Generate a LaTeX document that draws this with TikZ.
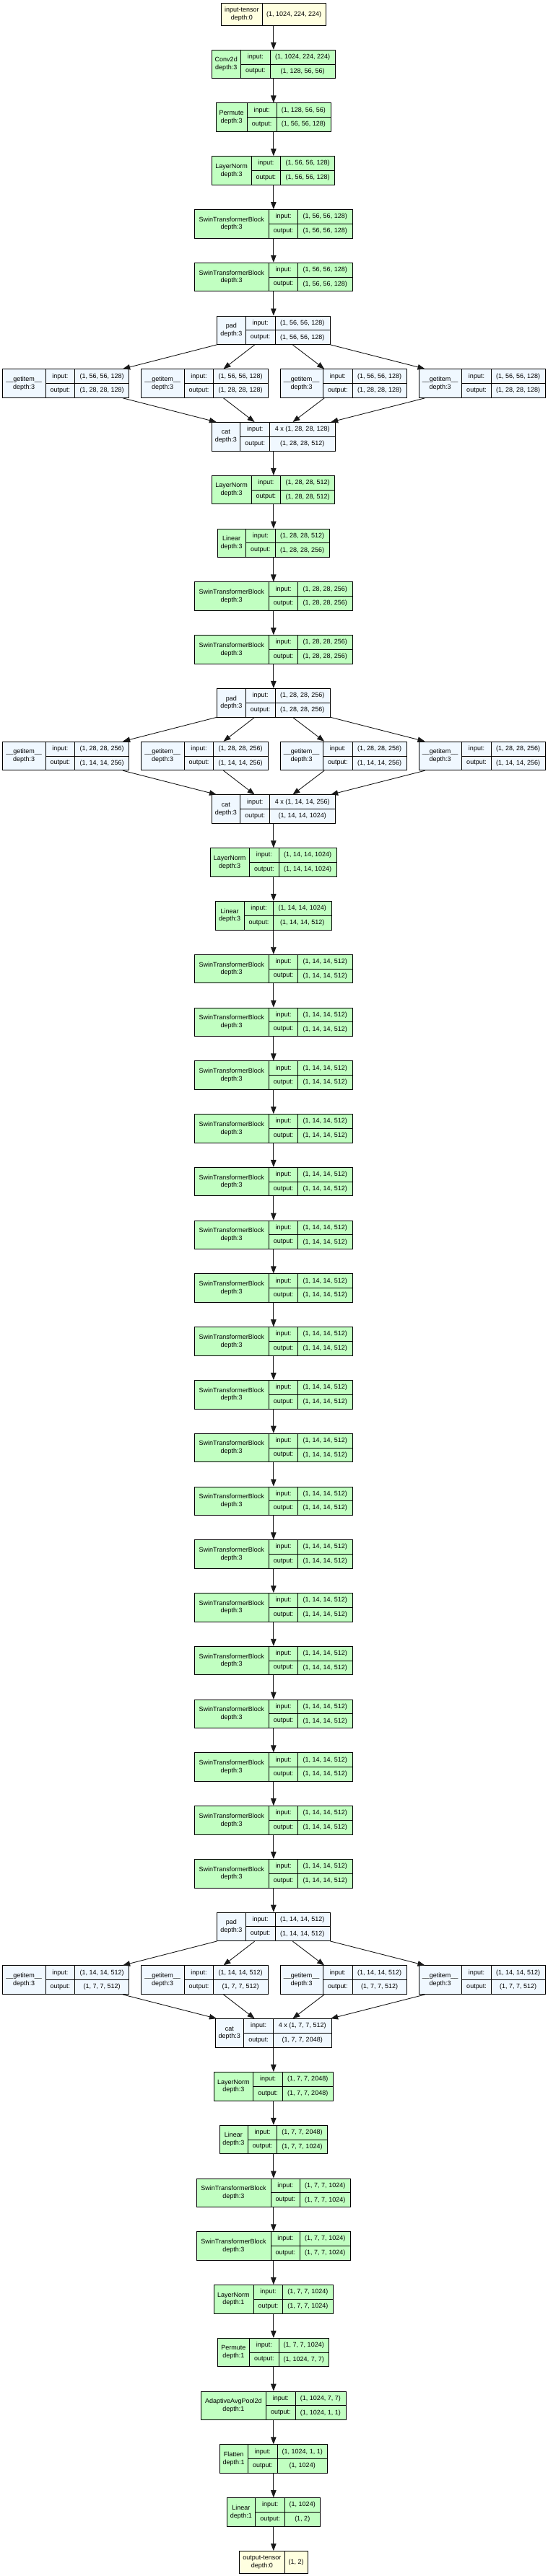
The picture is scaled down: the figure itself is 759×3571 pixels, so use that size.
\documentclass[tikz,border=0pt]{standalone}
\usepackage{fontspec}
\setmainfont{Liberation Sans}
\usetikzlibrary{arrows.meta,calc}
\definecolor{tvgreen}{HTML}{C1FFC1}
\definecolor{tvblue}{HTML}{F0F8FF}
\definecolor{tvyellow}{HTML}{FFFFE0}
\tikzset{
 tvshape/.style={draw=black, line width=0.9bp, anchor=north, inner sep=0pt, minimum height=39.6bp},
 tvline/.style={draw=black, line width=0.9bp},
 tvtext/.style={inner sep=0pt, font=\fontsize{9bp}{10.7bp}\selectfont, text=black},
 tvedge/.style={draw=black!90, line width=0.9bp, -{Triangle[length=10bp,width=7.5bp]}},
}
% name, cx, rank index, label width, value width, fill, label, input, output
\newcommand{\tvbox}[9]{%
  \pgfmathsetmacro\tvW{#4+40.7+#5}%
  \pgfmathsetmacro\tvT{68.7+73.77*#3}%
  \pgfmathsetmacro\tvA{#4}%
  \pgfmathsetmacro\tvB{#4+40.7}%
  \pgfmathsetmacro\tvLc{#4/2}%
  \pgfmathsetmacro\tvIc{#4+20.35}%
  \pgfmathsetmacro\tvVc{#4+40.7+#5/2}%
  \node[tvshape, fill=#6, minimum width=\tvW bp] (#1) at (#2,\tvT) {};
  \draw[tvline] ([xshift=\tvA bp]#1.north west) -- ([xshift=\tvA bp]#1.south west);
  \draw[tvline] ([xshift=\tvB bp]#1.north west) -- ([xshift=\tvB bp]#1.south west);
  \draw[tvline] ([xshift=\tvA bp]#1.west) -- (#1.east);
  \node[tvtext, align=center] at ([xshift=\tvLc bp]#1.west) {#7};
  \node[tvtext] at ([xshift=\tvIc bp, yshift=9.9bp]#1.west) {input:};
  \node[tvtext] at ([xshift=\tvIc bp, yshift=-9.9bp]#1.west) {output:};
  \node[tvtext] at ([xshift=\tvVc bp, yshift=9.9bp]#1.west) {#8};
  \node[tvtext] at ([xshift=\tvVc bp, yshift=-9.9bp]#1.west) {#9};
}
% name, cx, top, label width, value width, label, value
\newcommand{\tvtensor}[7]{%
  \pgfmathsetmacro\tvW{#4+#5}%
  \pgfmathsetmacro\tvA{#4}%
  \pgfmathsetmacro\tvLc{#4/2}%
  \pgfmathsetmacro\tvVc{#4+#5/2}%
  \node[tvshape, fill=tvyellow, minimum width=\tvW bp, minimum height=30.8bp] (#1) at (#2,#3) {};
  \draw[tvline] ([xshift=\tvA bp]#1.north west) -- ([xshift=\tvA bp]#1.south west);
  \node[tvtext, align=center] at ([xshift=\tvLc bp]#1.west) {#6};
  \node[tvtext] at ([xshift=\tvVc bp]#1.west) {#7};
}
% prefix, rank index, input, output
\newcommand{\tvrow}[4]{%
  \tvbox{#1a}{91.2}{#2}{60}{74.7}{tvblue}{\_\_getitem\_\_\\depth:3}{#3}{#4}
  \tvbox{#1b}{283.3}{#2}{60}{74.7}{tvblue}{\_\_getitem\_\_\\depth:3}{#3}{#4}
  \tvbox{#1c}{475.7}{#2}{60}{74.7}{tvblue}{\_\_getitem\_\_\\depth:3}{#3}{#4}
  \tvbox{#1d}{667.8}{#2}{60}{74.7}{tvblue}{\_\_getitem\_\_\\depth:3}{#3}{#4}
}
% pad, prefix, cat
\newcommand{\tvfan}[3]{%
  \foreach \q in {a,b,c,d} {
    \draw[tvedge] (#1) -- (#2\q);
    \draw[tvedge] (#2\q) -- (#3);
  }
}
\begin{document}
\begin{tikzpicture}[x=1bp,y=-1bp]
\fill[white] (0,0) rectangle (759,3571);
\useasboundingbox (0,0) rectangle (759,3571);
\def\cx{378.85}
% stage 1
\tvtensor{inp}{\cx}{4}{57.3}{87}{input-tensor\\depth:0}{(1, 1024, 224, 224)}
\tvbox{conv}{\cx}{0}{40.6}{89.6}{tvgreen}{Conv2d\\depth:3}{(1, 1024, 224, 224)}{(1, 128, 56, 56)}
\tvbox{perma}{\cx}{1}{43.3}{74.7}{tvgreen}{Permute\\depth:3}{(1, 128, 56, 56)}{(1, 56, 56, 128)}
\tvbox{lna}{\cx}{2}{54.7}{74.7}{tvgreen}{LayerNorm\\depth:3}{(1, 56, 56, 128)}{(1, 56, 56, 128)}
\tvbox{a1}{\cx}{3}{103}{74.7}{tvgreen}{SwinTransformerBlock\\depth:3}{(1, 56, 56, 128)}{(1, 56, 56, 128)}
\tvbox{a2}{\cx}{4}{103}{74.7}{tvgreen}{SwinTransformerBlock\\depth:3}{(1, 56, 56, 128)}{(1, 56, 56, 128)}
\tvbox{pada}{\cx}{5}{40}{75.5}{tvblue}{pad\\depth:3}{(1, 56, 56, 128)}{(1, 56, 56, 128)}
\tvrow{ga}{6}{(1, 56, 56, 128)}{(1, 28, 28, 128)}
\tvbox{cata}{\cx}{7}{40}{90.3}{tvblue}{cat\\depth:3}{4 x (1, 28, 28, 128)}{(1, 28, 28, 512)}
% stage 2
\tvbox{lnb}{\cx}{8}{54.7}{74.7}{tvgreen}{LayerNorm\\depth:3}{(1, 28, 28, 512)}{(1, 28, 28, 512)}
\tvbox{linb}{\cx}{9}{39.7}{74.7}{tvgreen}{Linear\\depth:3}{(1, 28, 28, 512)}{(1, 28, 28, 256)}
\tvbox{b1}{\cx}{10}{103}{74.7}{tvgreen}{SwinTransformerBlock\\depth:3}{(1, 28, 28, 256)}{(1, 28, 28, 256)}
\tvbox{b2}{\cx}{11}{103}{74.7}{tvgreen}{SwinTransformerBlock\\depth:3}{(1, 28, 28, 256)}{(1, 28, 28, 256)}
\tvbox{padb}{\cx}{12}{40}{75.5}{tvblue}{pad\\depth:3}{(1, 28, 28, 256)}{(1, 28, 28, 256)}
\tvrow{gb}{13}{(1, 28, 28, 256)}{(1, 14, 14, 256)}
\tvbox{catb}{\cx}{14}{40}{90.3}{tvblue}{cat\\depth:3}{4 x (1, 14, 14, 256)}{(1, 14, 14, 1024)}
% stage 3
\tvbox{lnc}{\cx}{15}{54.7}{79.8}{tvgreen}{LayerNorm\\depth:3}{(1, 14, 14, 1024)}{(1, 14, 14, 1024)}
\tvbox{linc}{\cx}{16}{40}{79.8}{tvgreen}{Linear\\depth:3}{(1, 14, 14, 1024)}{(1, 14, 14, 512)}
\foreach \k in {1,...,18} {
  \pgfmathtruncatemacro\idx{16+\k}
  \tvbox{c\k}{\cx}{\idx}{103}{74.7}{tvgreen}{SwinTransformerBlock\\depth:3}{(1, 14, 14, 512)}{(1, 14, 14, 512)}
}
\tvbox{padc}{\cx}{35}{40}{75.5}{tvblue}{pad\\depth:3}{(1, 14, 14, 512)}{(1, 14, 14, 512)}
\tvrow{gc}{36}{(1, 14, 14, 512)}{(1, 7, 7, 512)}
\tvbox{catc}{\cx}{37}{40}{80.6}{tvblue}{cat\\depth:3}{4 x (1, 7, 7, 512)}{(1, 7, 7, 2048)}
% stage 4
\tvbox{lnd}{\cx}{38}{55}{69.4}{tvgreen}{LayerNorm\\depth:3}{(1, 7, 7, 2048)}{(1, 7, 7, 2048)}
\tvbox{lind}{\cx}{39}{39.5}{69.2}{tvgreen}{Linear\\depth:3}{(1, 7, 7, 2048)}{(1, 7, 7, 1024)}
\tvbox{d1}{\cx}{40}{103}{69.2}{tvgreen}{SwinTransformerBlock\\depth:3}{(1, 7, 7, 1024)}{(1, 7, 7, 1024)}
\tvbox{d2}{\cx}{41}{103}{69.2}{tvgreen}{SwinTransformerBlock\\depth:3}{(1, 7, 7, 1024)}{(1, 7, 7, 1024)}
% head
\tvbox{lnf}{\cx}{42}{55.4}{69.2}{tvgreen}{LayerNorm\\depth:1}{(1, 7, 7, 1024)}{(1, 7, 7, 1024)}
\tvbox{permf}{\cx}{43}{44}{69.2}{tvgreen}{Permute\\depth:1}{(1, 7, 7, 1024)}{(1, 1024, 7, 7)}
\tvbox{aap}{\cx}{44}{90.3}{69.4}{tvgreen}{AdaptiveAvgPool2d\\depth:1}{(1, 1024, 7, 7)}{(1, 1024, 1, 1)}
\tvbox{flat}{\cx}{45}{40}{69}{tvgreen}{Flatten\\depth:1}{(1, 1024, 1, 1)}{(1, 1024)}
\tvbox{linf}{\cx}{46}{40}{48.3}{tvgreen}{Linear\\depth:1}{(1, 1024)}{(1, 2)}
\tvtensor{outp}{\cx}{3536}{63.3}{31}{output-tensor\\depth:0}{(1, 2)}
% edges
\draw[tvedge] (inp) -- (conv);
\draw[tvedge] (conv) -- (perma);
\draw[tvedge] (perma) -- (lna);
\draw[tvedge] (lna) -- (a1);
\draw[tvedge] (a1) -- (a2);
\draw[tvedge] (a2) -- (pada);
\tvfan{pada}{ga}{cata}
\draw[tvedge] (cata) -- (lnb);
\draw[tvedge] (lnb) -- (linb);
\draw[tvedge] (linb) -- (b1);
\draw[tvedge] (b1) -- (b2);
\draw[tvedge] (b2) -- (padb);
\tvfan{padb}{gb}{catb}
\draw[tvedge] (catb) -- (lnc);
\draw[tvedge] (lnc) -- (linc);
\draw[tvedge] (linc) -- (c1);
\foreach \k [evaluate=\k as \n using int(\k+1)] in {1,...,17} {
  \draw[tvedge] (c\k) -- (c\n);
}
\draw[tvedge] (c18) -- (padc);
\tvfan{padc}{gc}{catc}
\draw[tvedge] (catc) -- (lnd);
\draw[tvedge] (lnd) -- (lind);
\draw[tvedge] (lind) -- (d1);
\draw[tvedge] (d1) -- (d2);
\draw[tvedge] (d2) -- (lnf);
\draw[tvedge] (lnf) -- (permf);
\draw[tvedge] (permf) -- (aap);
\draw[tvedge] (aap) -- (flat);
\draw[tvedge] (flat) -- (linf);
\draw[tvedge] (linf) -- (outp);
\end{tikzpicture}
\end{document}
